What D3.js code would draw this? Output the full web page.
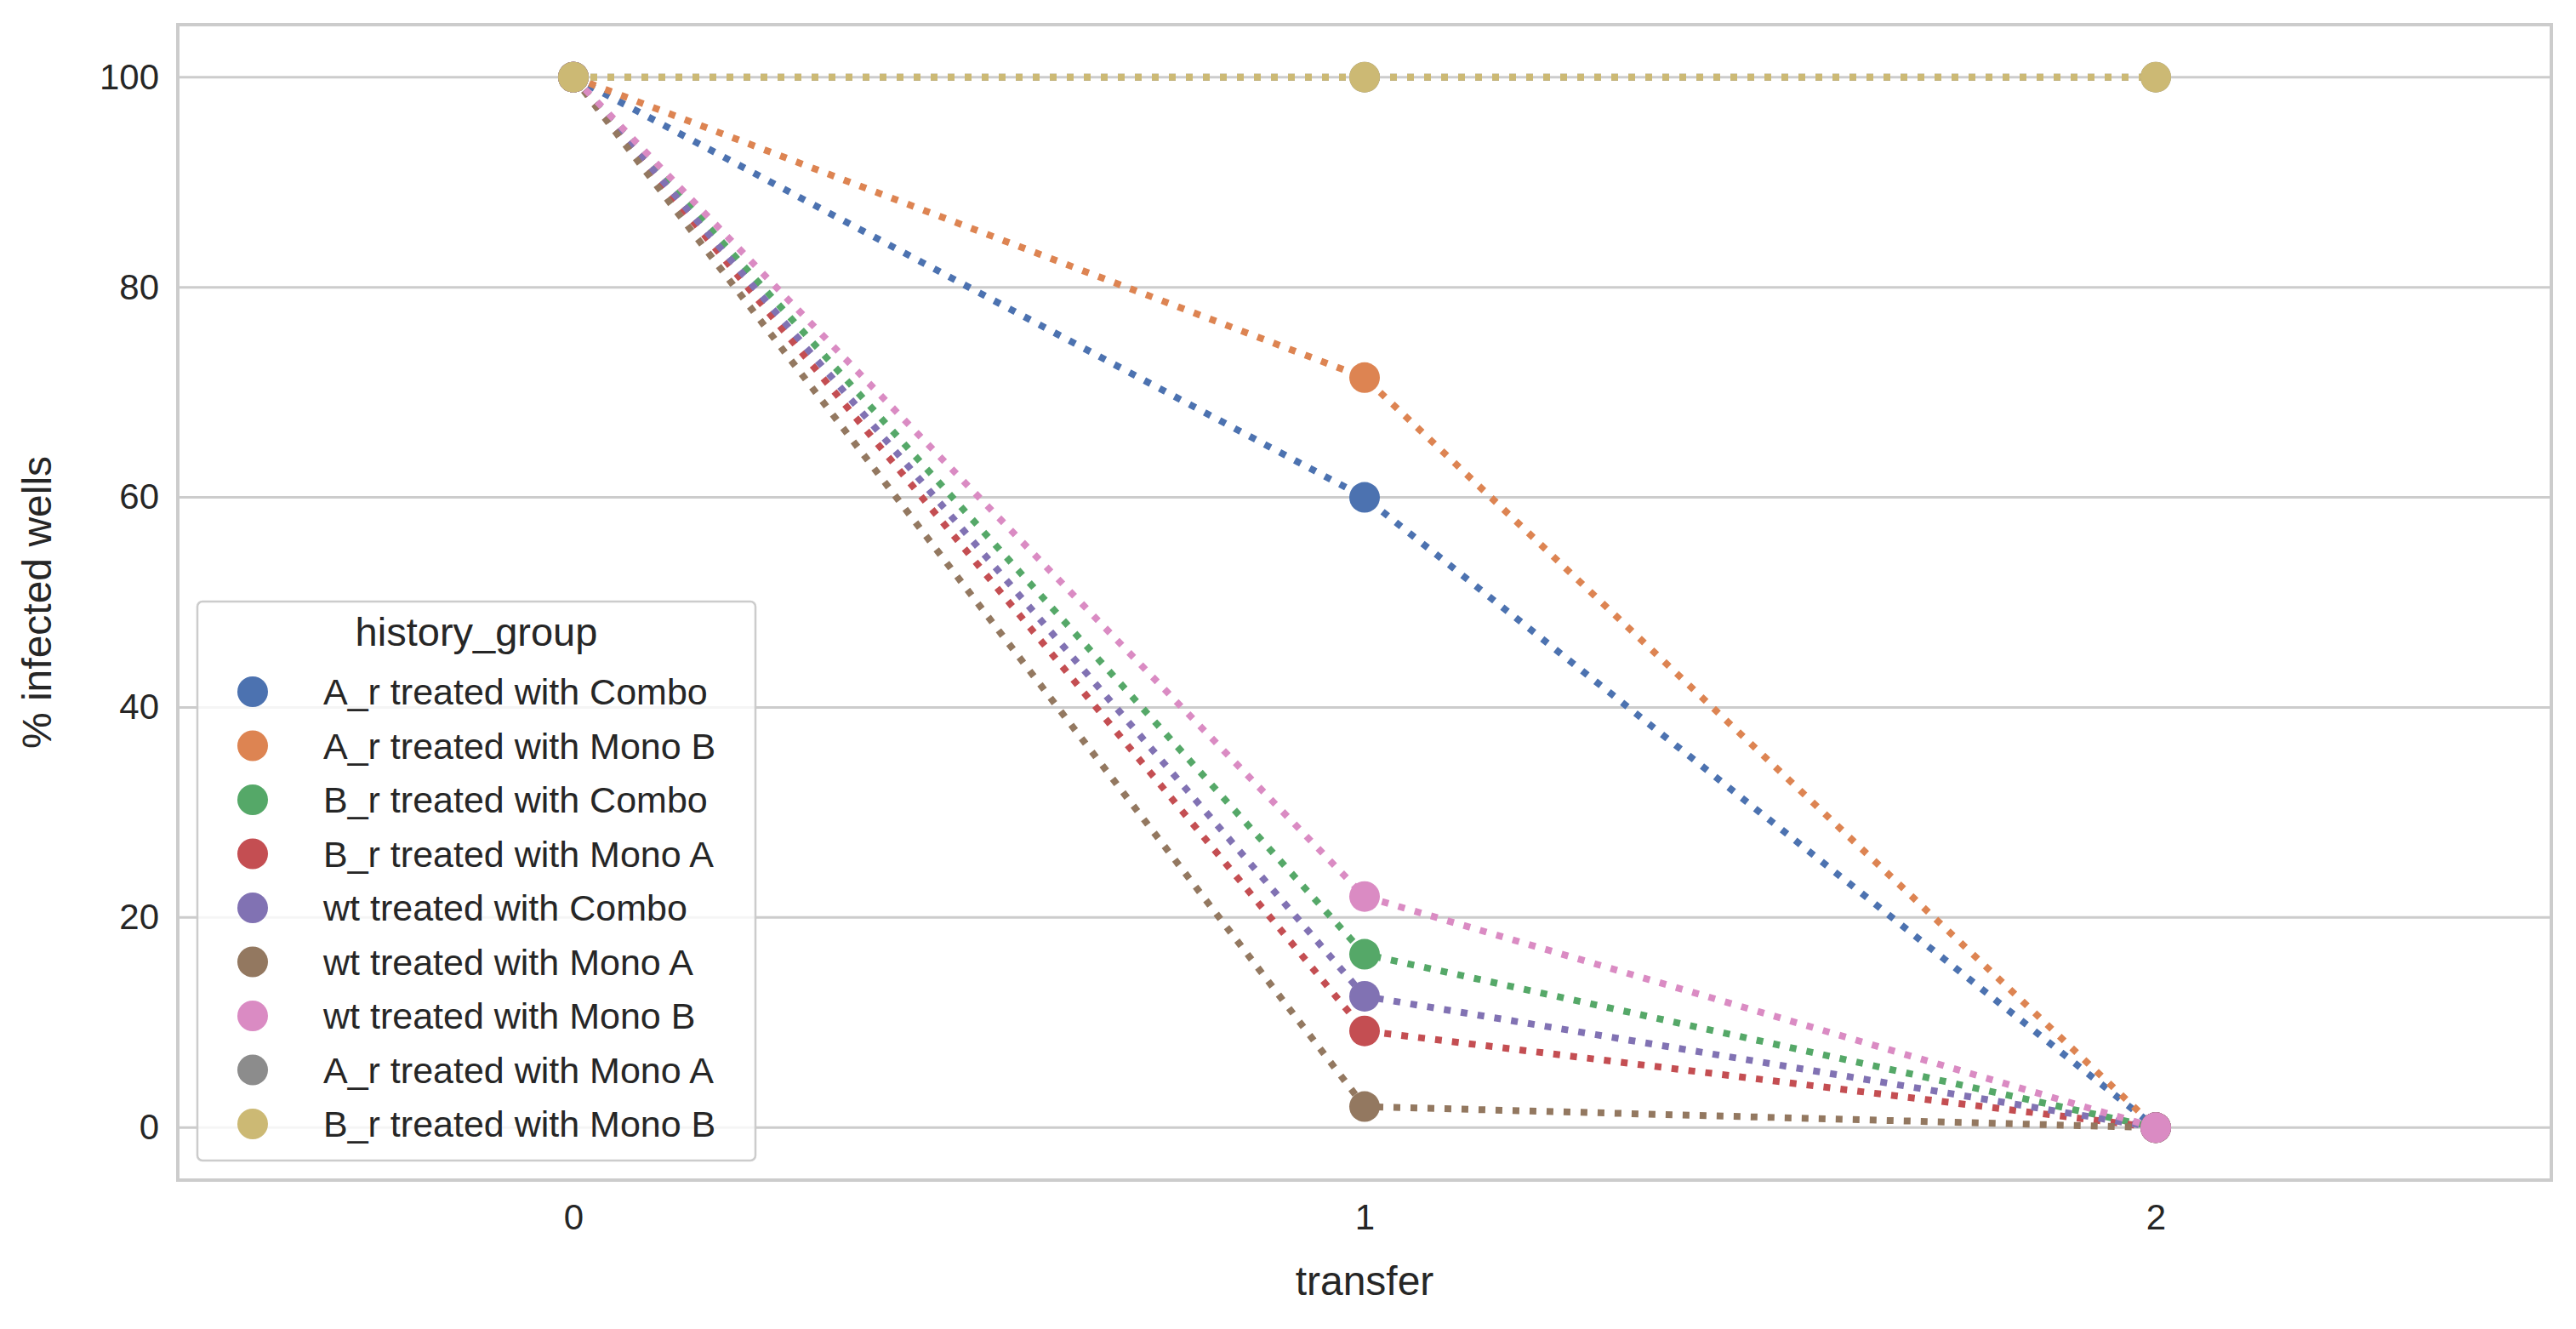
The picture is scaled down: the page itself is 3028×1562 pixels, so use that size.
<!DOCTYPE html>
<html><head><meta charset="utf-8">
<script src="https://cdn.jsdelivr.net/npm/d3@7"></script>
<style>body{margin:0;background:#fff}svg{font-family:"Liberation Sans",Arial,sans-serif}</style>
</head><body>
<svg id="chart" width="3028" height="1562"></svg>
<script>
var transfers = [0, 1, 2];
var groups = ["A_r treated with Combo", "A_r treated with Mono B", "B_r treated with Combo",
  "B_r treated with Mono A", "wt treated with Combo", "wt treated with Mono A",
  "wt treated with Mono B", "A_r treated with Mono A", "B_r treated with Mono B"];
var colors = ["#4c72b0", "#dd8452", "#55a868", "#c44e52", "#8172b3", "#937860", "#da8bc3", "#8c8c8c", "#ccb974"];
var values = [
  [100, 60, 0],
  [100, 71.4, 0],
  [100, 16.5, 0],
  [100, 9.2, 0],
  [100, 12.5, 0],
  [100, 2, 0],
  [100, 22, 0],
  [100, 100, 100],
  [100, 100, 100]
];
var yTicks = [0, 20, 40, 60, 80, 100];

var svg = d3.select("#chart");
var L = 209, R = 2999, T = 29, B = 1387;
var x = d3.scaleLinear().domain([-0.5, 2.5]).range([L, R]);
var y = d3.scaleLinear().domain([-5, 105]).range([B, T]);

// grid
svg.append("g").selectAll("line").data(yTicks).join("line")
  .attr("x1", L).attr("x2", R).attr("y1", function(d){return y(d);}).attr("y2", function(d){return y(d);})
  .attr("stroke", "#cccccc").attr("stroke-width", 3);

var yAxis = svg.append("g").attr("transform", "translate(" + L + ",0)")
  .call(d3.axisLeft(y).tickValues(yTicks).tickFormat(d3.format("d")).tickSize(0).tickPadding(22));
var xAxis = svg.append("g").attr("transform", "translate(0," + B + ")")
  .call(d3.axisBottom(x).tickValues(transfers).tickFormat(d3.format("d")).tickSize(0).tickPadding(28));
[yAxis, xAxis].forEach(function(a){
  a.select(".domain").remove();
  a.selectAll("text").attr("font-size", 42).attr("fill", "#262626").attr("font-family", "Liberation Sans, Arial, sans-serif");
});

// frame
svg.append("rect").attr("x", L).attr("y", T).attr("width", R - L).attr("height", B - T)
  .attr("fill", "none").attr("stroke", "#cccccc").attr("stroke-width", 4);

var line = d3.line().x(function(d, i){return x(transfers[i]);}).y(function(d){return y(d);});
groups.forEach(function(g, k){
  svg.append("path").datum(values[k]).attr("d", line).attr("fill", "none")
    .attr("stroke", colors[k]).attr("stroke-width", 8).attr("stroke-dasharray", "8,12");
});
groups.forEach(function(g, k){
  svg.append("g").selectAll("circle").data(values[k]).join("circle")
    .attr("cx", function(d, i){return x(transfers[i]);}).attr("cy", function(d){return y(d);})
    .attr("r", 18).attr("fill", colors[k]);
});

// labels
svg.append("text").attr("x", (L + R) / 2).attr("y", 1522).attr("text-anchor", "middle")
  .attr("font-size", 48).attr("fill", "#262626").text("transfer");
svg.append("text").attr("transform", "translate(60," + ((T + B) / 2) + ") rotate(-90)")
  .attr("text-anchor", "middle").attr("font-size", 48).attr("fill", "#262626").text("% infected wells");

// legend
var lg = svg.append("g").attr("transform", "translate(232,707)");
lg.append("rect").attr("width", 656).attr("height", 657).attr("rx", 6)
  .attr("fill", "#fff").attr("fill-opacity", 0.8).attr("stroke", "#cccccc").attr("stroke-width", 2.5);
lg.append("text").attr("x", 328).attr("y", 52).attr("text-anchor", "middle")
  .attr("font-size", 47).attr("fill", "#262626").text("history_group");
groups.forEach(function(g, k){
  var yy = 106 + k * 63.5;
  lg.append("circle").attr("cx", 65).attr("cy", yy).attr("r", 18).attr("fill", colors[k]);
  lg.append("text").attr("x", 148).attr("y", yy + 15).attr("font-size", 43).attr("fill", "#262626").text(g);
});
</script>
</body></html>
